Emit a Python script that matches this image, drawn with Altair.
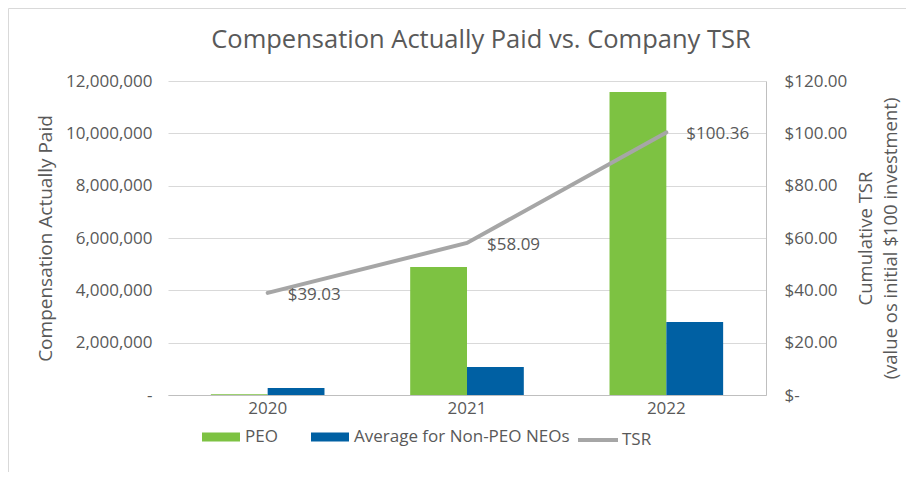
import altair as alt
import pandas as pd

years = ["2020", "2021", "2022"]
peo = [30000, 4890000, 11580000]
neo = [270000, 1070000, 2790000]
tsr = [39.03, 58.09, 100.36]
tsr_labels = ["$39.03", "$58.09", "$100.36"]
bar_series = ["PEO", "Average for Non-PEO NEOs"]
bar_colors = ["#7DC242", "#0060A3"]
line_series = ["TSR"]
line_colors = ["#A6A6A6"]

TXT = "#595959"
FONT = "Open Sans"
FS = 17

bars_df = pd.DataFrame({
    "year": years * 2,
    "series": [bar_series[0]] * 3 + [bar_series[1]] * 3,
    "value": peo + neo,
})
tsr_df = pd.DataFrame({"year": years, "tsr": tsr, "label": tsr_labels, "series": line_series * 3})

x_enc = alt.X(
    "year:N",
    scale=alt.Scale(paddingInner=0.43, paddingOuter=0.215),
    axis=alt.Axis(title=None, labelAngle=0, labelFontSize=FS, labelColor=TXT, labelFont=FONT,
                  domainColor="#BFBFBF", ticks=False, labelPadding=5),
)

bar_legend = alt.Legend(
    title=None, orient="none", direction="horizontal", legendX=34, legendY=337,
    symbolSize=1444, symbolType="M-1,-0.237H1V0.237H-1Z", symbolStrokeWidth=0,
    labelFontSize=FS, labelColor=TXT, labelFont=FONT, labelOffset=5, columnPadding=33,
    labelLimit=400,
)
line_legend = alt.Legend(
    title=None, orient="none", direction="horizontal", legendX=408, legendY=337,
    symbolSize=1600, symbolType="stroke", symbolStrokeWidth=4,
    labelFontSize=FS, labelColor=TXT, labelFont=FONT, labelOffset=2,
)

bars = alt.Chart(bars_df).mark_bar().encode(
    x=x_enc,
    xOffset=alt.XOffset("series:N", scale=alt.Scale(domain=bar_series)),
    y=alt.Y("value:Q", scale=alt.Scale(domain=[0, 12000000]),
            axis=alt.Axis(title="Compensation Actually Paid", values=list(range(0, 12000001, 2000000)),
                          labelExpr="datum.value == 0 ? '-' : format(datum.value, ',')",
                          labelFontSize=FS, labelColor=TXT, labelFont=FONT, labelPadding=16,
                          titleFontSize=19, titleColor=TXT, titleFont=FONT, titleFontWeight="normal",
                          titlePadding=10, domain=False, ticks=False, gridColor="#D9D9D9")),
    color=alt.Color("series:N", scale=alt.Scale(domain=bar_series, range=bar_colors), legend=bar_legend),
)

y_tsr = alt.Y("tsr:Q", scale=alt.Scale(domain=[0, 120]),
              axis=alt.Axis(title=["Cumulative TSR", "(value os initial $100 investment)"],
                            orient="right", values=list(range(0, 121, 20)),
                            labelExpr="datum.value == 0 ? '$-' : '$' + format(datum.value, ',.2f')",
                            labelFontSize=FS, labelColor=TXT, labelFont=FONT, labelPadding=18,
                            titleFontSize=18.5, titleColor=TXT, titleFont=FONT, titleFontWeight="normal",
                            titleAngle=270, titlePadding=4, titleLineHeight=25,
                            domainColor="#BFBFBF", ticks=False, grid=False))

line = alt.Chart(tsr_df).mark_line(strokeWidth=4, strokeCap="round").encode(
    x=x_enc, y=y_tsr,
    stroke=alt.Stroke("series:N", scale=alt.Scale(domain=line_series, range=line_colors), legend=line_legend),
)
labels = alt.Chart(tsr_df).mark_text(align="left", dx=20, dy=2, fontSize=FS, color=TXT, font=FONT).encode(
    x=x_enc, y=y_tsr, text="label:N",
)

frame = alt.Chart(pd.DataFrame({"a": [0]})).mark_rect(fill="transparent", stroke="#D9D9D9", strokeWidth=1).encode(
    x=alt.value(-159.5), x2=alt.value(900), y=alt.value(-72.5), y2=alt.value(500)
)

chart = alt.layer(frame, bars, alt.layer(line, labels)).resolve_scale(y="independent").properties(
    width=598, height=314,
    title=alt.TitleParams("Compensation Actually Paid vs. Company TSR", fontSize=25.5, color=TXT,
                          font=FONT, fontWeight="normal", anchor="middle", dx=14, offset=-45),
    autosize=alt.AutoSizeParams(type="none"),
    padding={"left": 160, "top": 73, "right": 140, "bottom": 77},
).configure_view(stroke=None)

chart.save("out.html", embed_options={"renderer": "svg", "actions": False})
